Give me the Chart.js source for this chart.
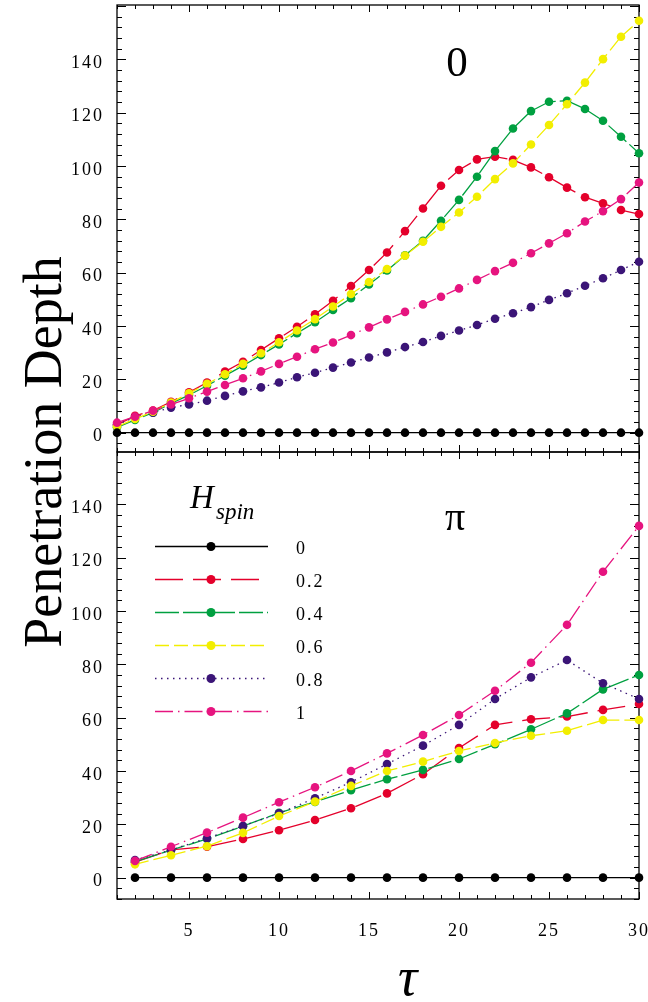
<!DOCTYPE html>
<html><head><meta charset="utf-8">
<script src="https://cdn.jsdelivr.net/npm/chart.js@4/dist/chart.umd.min.js"></script>
<style>
html,body{margin:0;padding:0;background:#fff;}
#wrap{position:relative;width:648px;height:1002px;overflow:hidden;background:#fff;}
.box{position:absolute;left:0;top:0;width:648px;}
</style></head><body>
<div id="wrap">
  <div class="box" style="height:462px"><canvas id="cTop"></canvas></div>
  <div class="box" style="height:1002px"><canvas id="cBot"></canvas></div>
</div>
<script>
// ---------------- data ----------------
const hSpin = ['0', '0.2', '0.4', '0.6', '0.8', '1'];
const panelNames = ['0', 'π'];
const xTickVals = [5, 10, 15, 20, 25, 30];
const yTickVals = [0, 20, 40, 60, 80, 100, 120, 140];

const tauTop = [1,2,3,4,5,6,7,8,9,10,11,12,13,14,15,16,17,18,19,20,21,22,23,24,25,26,27,28,29,30];
const topH0  = [0,0,0,0,0,0,0,0,0,0,0,0,0,0,0,0,0,0,0,0,0,0,0,0,0,0,0,0,0,0];
const topH02 = [2.9,6.3,8.3,11.6,15.1,18.8,22.9,26.6,31.0,35.4,39.7,44.4,49.5,55.0,61.0,67.6,75.6,84.1,92.6,98.5,102.5,103.5,102.3,99.5,95.8,91.9,88.3,86.0,83.5,82.0];
const topH04 = [2.0,4.8,7.5,11.0,14.1,17.6,21.4,25.1,29.1,33.1,37.3,41.4,46.0,50.4,55.6,60.8,66.5,72.0,79.5,87.3,96.0,105.6,114.1,120.6,124.1,124.5,121.4,117.0,111.0,104.8];
const topH06 = [2.3,5.1,7.9,11.3,14.8,18.3,21.9,25.8,29.8,33.9,38.3,42.6,47.3,52.0,56.5,61.4,66.4,71.6,77.2,82.6,88.5,95.1,101.0,108.1,115.4,123.2,131.3,140.1,148.5,154.5];
const topH08 = [3.0,5.8,7.5,9.4,10.6,12.0,13.8,15.5,17.0,18.8,20.8,22.5,24.4,26.3,28.2,30.1,32.1,34.0,36.3,38.3,40.4,42.7,44.8,47.1,49.8,52.3,55.1,57.9,61.0,64.1];
const topH10 = [3.75,6.0,8.25,10.6,12.9,15.4,17.9,20.4,23.0,25.8,28.5,31.3,33.8,36.6,39.5,42.5,45.3,48.1,51.0,54.1,57.3,60.6,63.7,67.3,71.0,74.8,79.2,83.1,87.6,93.8];

const tauBot = [2,4,6,8,10,12,14,16,18,20,22,24,26,28,30];
const botH0  = [0,0,0,0,0,0,0,0,0,0,0,0,0,0,0];
const botH02 = [5.8,10.4,11.6,14.5,17.8,21.6,26.0,31.6,38.8,48.6,57.3,59.4,60.4,62.9,65.1];
const botH04 = [6.0,10.3,14.5,19.3,24.3,28.4,32.8,36.9,40.4,44.5,50.0,55.6,61.6,70.6,76.0];
const botH06 = [5.0,8.4,11.8,16.8,23.1,28.5,34.4,40.0,43.5,47.5,50.5,53.2,55.1,59.1,59.1];
const botH08 = [6.6,10.4,14.8,19.4,24.1,29.8,35.8,42.6,49.5,57.3,67.0,75.1,81.6,72.9,67.0];
const botH10 = [6.3,11.6,16.9,22.5,28.3,33.9,40.0,46.6,53.5,61.0,70.1,80.6,94.8,114.7,131.9];

// ---------------- styles ----------------
const FONT = '"Liberation Serif","Times New Roman",serif';
const colors = ['#000000', '#e4002b', '#00a040', '#f2ee00', '#3b1577', '#e6147f'];
const dashes = [[], [28, 10], [24, 4], [14, 5], [1.5, 4.5], [18, 5, 1.5, 5]];
const drawOrder = [0, 5, 4, 2, 3, 1];

Chart.defaults.font.family = FONT;
Chart.defaults.color = '#000';

function makeDatasets(tau, series) {
  return series.map((vals, i) => ({
    label: hSpin[i],
    data: tau.map((t, k) => ({x: t, y: vals[k]})),
    borderColor: colors[i],
    backgroundColor: colors[i],
    pointBackgroundColor: colors[i],
    borderWidth: 1.3,
    borderDash: dashes[i],
    pointRadius: 4.3,
    pointHoverRadius: 4.3,
    pointBorderWidth: 0,
    tension: 0,
    clip: false,
    order: drawOrder[i]
  }));
}

const framePlugin = {
  id: 'frame',
  beforeDraw(chart) { chart.ctx.letterSpacing = '2px'; },
  beforeDatasetsDraw(chart) {
    const {ctx, chartArea: a, scales} = chart;
    const xs = scales.x, ys = scales.y;
    ctx.save();
    ctx.strokeStyle = '#000';
    ctx.lineWidth = 1;
    ctx.beginPath();
    for (let v = Math.ceil(xs.min); v <= xs.max + 1e-6; v++) {
      const px = Math.round(xs.getPixelForValue(v)) + 0.5;
      const len = (v % 5 === 0) ? 7 : 4;
      ctx.moveTo(px, a.top); ctx.lineTo(px, a.top + len);
      ctx.moveTo(px, a.bottom); ctx.lineTo(px, a.bottom - len);
    }
    for (let v = Math.ceil(ys.min / 4) * 4; v <= ys.max; v += 4) {
      const py = Math.round(ys.getPixelForValue(v)) + 0.5;
      const len = (v % 20 === 0) ? 9 : 5;
      ctx.moveTo(a.left, py); ctx.lineTo(a.left + len, py);
      ctx.moveTo(a.right, py); ctx.lineTo(a.right - len, py);
    }
    ctx.stroke();
    ctx.lineWidth = 1.3;
    ctx.strokeRect(a.left, a.top, a.right - a.left, a.bottom - a.top);
    ctx.restore();
  }
};

const annotPlugin = {
  id: 'annot',
  afterDraw(chart, args, opts) {
    const {ctx, chartArea: a} = chart;
    const w = a.right - a.left;
    ctx.save();
    ctx.letterSpacing = '0px';
    ctx.fillStyle = '#000';
    // panel label
    ctx.textAlign = 'center';
    ctx.textBaseline = 'alphabetic';
    ctx.font = opts.panelFont + ' ' + FONT;
    ctx.fillText(opts.panel, a.left + opts.panelX * w, a.top + opts.panelY);
    if (opts.bottom) {
      // x axis title
      ctx.font = 'italic 54px ' + FONT;
      ctx.fillText('τ', a.left + 0.557 * w, a.bottom + 96);
      // y axis title spanning both panels
      ctx.save();
      ctx.translate(61, (5 + a.bottom) / 2);
      ctx.rotate(-Math.PI / 2);
      ctx.font = '54px ' + FONT;
      ctx.textAlign = 'center';
      ctx.fillText('Penetration Depth', 0, 0);
      ctx.restore();
      // legend
      ctx.textAlign = 'left';
      ctx.font = 'italic 33px ' + FONT;
      ctx.fillText('H', a.left + 73, a.top + 56);
      ctx.font = 'italic 23px ' + FONT;
      ctx.fillText('spin', a.left + 99, a.top + 67);
      chart.data.datasets.forEach((ds, i) => {
        const y = a.top + 94.5 + i * 33;
        ctx.save();
        ctx.strokeStyle = ds.borderColor;
        ctx.lineWidth = 1.3;
        ctx.setLineDash(ds.borderDash);
        ctx.beginPath();
        ctx.moveTo(a.left + 38, y);
        ctx.lineTo(a.left + 151, y);
        ctx.stroke();
        ctx.setLineDash([]);
        ctx.fillStyle = ds.borderColor;
        ctx.beginPath();
        ctx.arc(a.left + 94, y, 4.5, 0, Math.PI * 2);
        ctx.fill();
        ctx.restore();
        ctx.save();
        ctx.letterSpacing = '2px';
        ctx.font = '18px ' + FONT;
        ctx.textBaseline = 'middle';
        ctx.fillStyle = '#000';
        ctx.fillText(ds.label, a.left + 179, y + 3);
        ctx.restore();
      });
    }
    ctx.restore();
  }
};

function makeOptions(yMin, yMax, isBottom, panelOpts) {
  return {
    responsive: true,
    maintainAspectRatio: false,
    animation: false,
    events: [],
    layout: {padding: isBottom ? {top: 452, right: 9, bottom: 0, left: 0}
                               : {top: 5, right: 9, bottom: 10, left: 0}},
    plugins: {legend: {display: false}, tooltip: {enabled: false}, annot: panelOpts},
    scales: {
      x: {
        type: 'linear', min: 1, max: 30, display: isBottom,
        grid: {display: false, drawTicks: false}, border: {display: false},
        afterBuildTicks: s => { s.ticks = xTickVals.map(v => ({value: v})); },
        afterFit: s => { if (isBottom) s.height = 103; s.paddingLeft = 0; s.paddingRight = 0; },
        ticks: {font: {size: 18, family: FONT}, color: '#000', padding: 21, maxRotation: 0, autoSkip: false}
      },
      y: {
        type: 'linear', min: yMin, max: yMax,
        grid: {display: false, drawTicks: false}, border: {display: false},
        afterBuildTicks: s => { s.ticks = yTickVals.map(v => ({value: v})); },
        afterFit: s => { s.width = 117; s.paddingTop = 0; s.paddingBottom = 0; },
        ticks: {font: {size: 18, family: FONT}, color: '#000', padding: 13, labelOffset: 4, autoSkip: false}
      }
    }
  };
}

new Chart(document.getElementById('cTop'), {
  type: 'line',
  data: {datasets: makeDatasets(tauTop, [topH0, topH02, topH04, topH06, topH08, topH10])},
  options: makeOptions(-7.25, 160.4, false, {panel: panelNames[0], panelFont: '43px', panelX: 0.6513, panelY: 71, bottom: false}),
  plugins: [framePlugin, annotPlugin]
});

new Chart(document.getElementById('cBot'), {
  type: 'line',
  data: {datasets: makeDatasets(tauBot, [botH0, botH02, botH04, botH06, botH08, botH10])},
  options: makeOptions(-8.0, 159.6, true, {panel: panelNames[1], panelFont: '40px', panelX: 0.6475, panelY: 78, bottom: true}),
  plugins: [framePlugin, annotPlugin]
});
</script>
</body></html>
